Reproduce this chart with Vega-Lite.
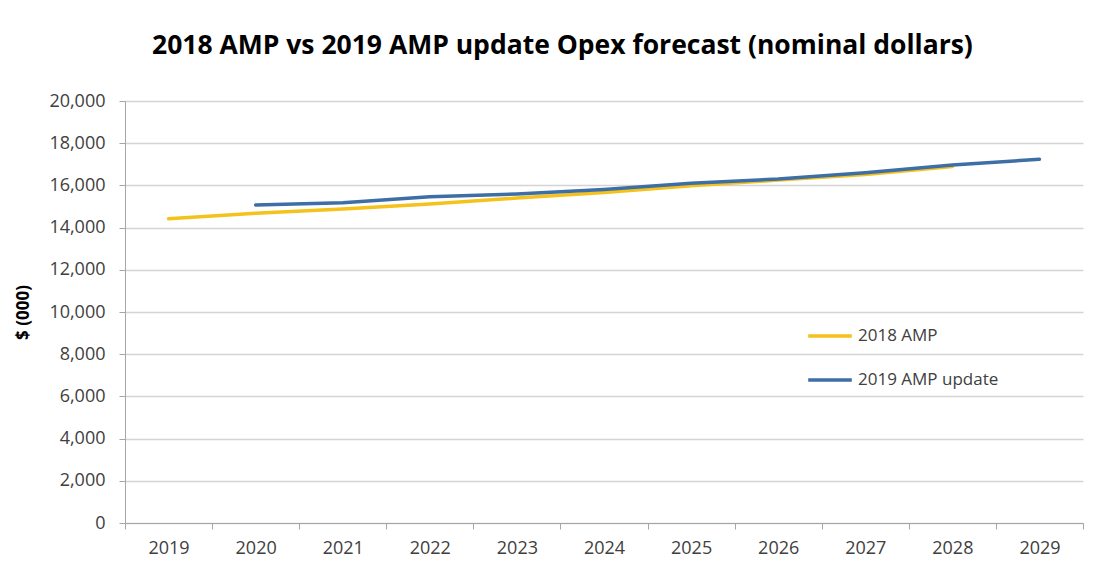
{
  "$schema": "https://vega.github.io/schema/vega-lite/v6.json",
  "autosize": {"type": "none"},
  "width": 958,
  "height": 422,
  "padding": {"left": 125, "top": 101, "right": 25, "bottom": 55},
  "background": "white",
  "title": {
    "text": "2018 AMP vs 2019 AMP update Opex forecast (nominal dollars)",
    "anchor": "start",
    "frame": "group",
    "dx": 27,
    "offset": 33,
    "font": "Open Sans",
    "fontSize": 26.5,
    "fontWeight": "bold",
    "color": "#000000"
  },
  "data": {
    "values": [
      {"year": "2019", "series": "2018 AMP", "value": 14420},
      {"year": "2020", "series": "2018 AMP", "value": 14680},
      {"year": "2021", "series": "2018 AMP", "value": 14880},
      {"year": "2022", "series": "2018 AMP", "value": 15120},
      {"year": "2023", "series": "2018 AMP", "value": 15400},
      {"year": "2024", "series": "2018 AMP", "value": 15660},
      {"year": "2025", "series": "2018 AMP", "value": 15980},
      {"year": "2026", "series": "2018 AMP", "value": 16250},
      {"year": "2027", "series": "2018 AMP", "value": 16520},
      {"year": "2028", "series": "2018 AMP", "value": 16900},
      {"year": "2020", "series": "2019 AMP update", "value": 15070},
      {"year": "2021", "series": "2019 AMP update", "value": 15180},
      {"year": "2022", "series": "2019 AMP update", "value": 15460},
      {"year": "2023", "series": "2019 AMP update", "value": 15590},
      {"year": "2024", "series": "2019 AMP update", "value": 15800},
      {"year": "2025", "series": "2019 AMP update", "value": 16100},
      {"year": "2026", "series": "2019 AMP update", "value": 16300},
      {"year": "2027", "series": "2019 AMP update", "value": 16600},
      {"year": "2028", "series": "2019 AMP update", "value": 16970},
      {"year": "2029", "series": "2019 AMP update", "value": 17240}
    ]
  },
  "mark": {"type": "line", "strokeWidth": 3.5, "strokeCap": "round", "strokeJoin": "round"},
  "encoding": {
    "x": {
      "field": "year",
      "type": "ordinal",
      "bandPosition": 0.5,
      "scale": {"type": "band", "paddingInner": 0, "paddingOuter": 0},
      "axis": {
        "title": null,
        "labelAngle": 0,
        "tickBand": "extent",
        "grid": false,
        "domainColor": "#A6A6A6",
        "tickColor": "#A6A6A6",
        "tickSize": 6,
        "labelFont": "Open Sans",
        "labelFontSize": 18,
        "labelColor": "#404040",
        "labelPadding": 10
      }
    },
    "y": {
      "field": "value",
      "type": "quantitative",
      "scale": {"domain": [0, 20000]},
      "axis": {
        "title": "$ (000)",
        "titleFont": "Open Sans",
        "titleFontSize": 17,
        "titleFontWeight": "bold",
        "titleColor": "#000000",
        "titlePadding": 16,
        "values": [0, 2000, 4000, 6000, 8000, 10000, 12000, 14000, 16000, 18000, 20000],
        "format": ",.0f",
        "gridColor": "#D4D4D4",
        "gridWidth": 1.5,
        "domainColor": "#A6A6A6",
        "tickColor": "#A6A6A6",
        "tickSize": 6,
        "labelFont": "Open Sans",
        "labelFontSize": 18,
        "labelColor": "#404040",
        "labelPadding": 14
      }
    },
    "color": {
      "field": "series",
      "type": "nominal",
      "scale": {"domain": ["2018 AMP", "2019 AMP update"], "range": ["#F5C21B", "#3D6EA5"]},
      "legend": {
        "title": null,
        "orient": "none",
        "legendX": 681,
        "legendY": 211,
        "symbolType": "stroke",
        "symbolSize": 1900,
        "symbolStrokeWidth": 3.5,
        "rowPadding": 12,
        "labelFont": "Open Sans",
        "labelFontSize": 17,
        "labelColor": "#404040",
        "labelOffset": 4
      }
    }
  },
  "config": {"view": {"stroke": null}}
}
